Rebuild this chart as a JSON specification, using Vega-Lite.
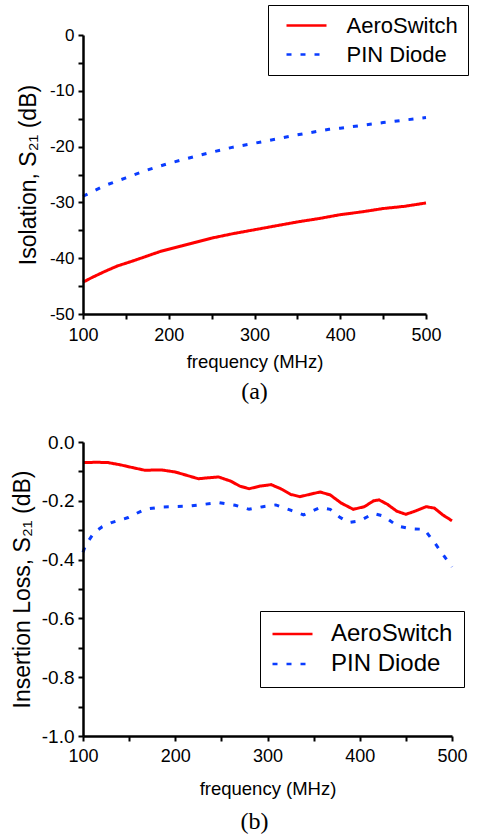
{
  "$schema": "https://vega.github.io/schema/vega-lite/v6.json",
  "padding": {"left": 11, "top": 4, "right": 4, "bottom": 0},
  "background": "white",
  "config": {
    "view": {"stroke": null},
    "font": "Liberation Sans",
    "locale": {"number": {"decimal": ".", "thousands": ",", "grouping": [3], "currency": ["$", ""], "minus": "-"}},
    "axis": {
      "grid": false,
      "zindex": 1,
      "domainColor": "black",
      "domainWidth": 2.5,
      "tickColor": "black",
      "tickWidth": 2,
      "tickSize": 5,
      "labelColor": "black",
      "titleColor": "black",
      "titleFontWeight": "normal",
      "labelFont": "Liberation Sans",
      "titleFont": "Liberation Sans",
      "labelFlush": false
    },
    "legend": {
      "orient": "none",
      "title": null,
      "strokeColor": "black",
      "fillColor": "white",
      "labelFont": "Liberation Sans",
      "labelColor": "black",
      "symbolType": "stroke",
      "symbolSize": 1600,
      "symbolStrokeWidth": 2.5
    }
  },
  "datasets": {
    "iso": [
      {"freq": 100, "S21": -44.3, "device": "AeroSwitch"},
      {"freq": 110, "S21": -43.5, "device": "AeroSwitch"},
      {"freq": 125, "S21": -42.4, "device": "AeroSwitch"},
      {"freq": 140, "S21": -41.4, "device": "AeroSwitch"},
      {"freq": 150, "S21": -40.9, "device": "AeroSwitch"},
      {"freq": 160, "S21": -40.4, "device": "AeroSwitch"},
      {"freq": 175, "S21": -39.6, "device": "AeroSwitch"},
      {"freq": 190, "S21": -38.8, "device": "AeroSwitch"},
      {"freq": 200, "S21": -38.4, "device": "AeroSwitch"},
      {"freq": 215, "S21": -37.8, "device": "AeroSwitch"},
      {"freq": 230, "S21": -37.2, "device": "AeroSwitch"},
      {"freq": 250, "S21": -36.4, "device": "AeroSwitch"},
      {"freq": 275, "S21": -35.6, "device": "AeroSwitch"},
      {"freq": 300, "S21": -34.9, "device": "AeroSwitch"},
      {"freq": 325, "S21": -34.2, "device": "AeroSwitch"},
      {"freq": 350, "S21": -33.5, "device": "AeroSwitch"},
      {"freq": 375, "S21": -32.9, "device": "AeroSwitch"},
      {"freq": 400, "S21": -32.2, "device": "AeroSwitch"},
      {"freq": 425, "S21": -31.7, "device": "AeroSwitch"},
      {"freq": 450, "S21": -31.1, "device": "AeroSwitch"},
      {"freq": 475, "S21": -30.7, "device": "AeroSwitch"},
      {"freq": 500, "S21": -30.1, "device": "AeroSwitch"},
      {"freq": 100, "S21": -28.9, "device": "PIN Diode"},
      {"freq": 125, "S21": -27.0, "device": "PIN Diode"},
      {"freq": 150, "S21": -25.6, "device": "PIN Diode"},
      {"freq": 175, "S21": -24.2, "device": "PIN Diode"},
      {"freq": 200, "S21": -23.0, "device": "PIN Diode"},
      {"freq": 250, "S21": -21.0, "device": "PIN Diode"},
      {"freq": 275, "S21": -20.1, "device": "PIN Diode"},
      {"freq": 300, "S21": -19.4, "device": "PIN Diode"},
      {"freq": 350, "S21": -17.9, "device": "PIN Diode"},
      {"freq": 387, "S21": -16.9, "device": "PIN Diode"},
      {"freq": 400, "S21": -16.7, "device": "PIN Diode"},
      {"freq": 450, "S21": -15.7, "device": "PIN Diode"},
      {"freq": 500, "S21": -14.8, "device": "PIN Diode"}
    ],
    "loss": [
      {"freq": 100, "S21": -0.070, "device": "AeroSwitch"},
      {"freq": 115, "S21": -0.069, "device": "AeroSwitch"},
      {"freq": 127, "S21": -0.070, "device": "AeroSwitch"},
      {"freq": 141, "S21": -0.078, "device": "AeroSwitch"},
      {"freq": 155, "S21": -0.088, "device": "AeroSwitch"},
      {"freq": 167, "S21": -0.096, "device": "AeroSwitch"},
      {"freq": 185, "S21": -0.095, "device": "AeroSwitch"},
      {"freq": 200, "S21": -0.102, "device": "AeroSwitch"},
      {"freq": 212, "S21": -0.113, "device": "AeroSwitch"},
      {"freq": 225, "S21": -0.125, "device": "AeroSwitch"},
      {"freq": 235, "S21": -0.122, "device": "AeroSwitch"},
      {"freq": 247, "S21": -0.119, "device": "AeroSwitch"},
      {"freq": 260, "S21": -0.133, "device": "AeroSwitch"},
      {"freq": 270, "S21": -0.150, "device": "AeroSwitch"},
      {"freq": 280, "S21": -0.159, "device": "AeroSwitch"},
      {"freq": 292, "S21": -0.150, "device": "AeroSwitch"},
      {"freq": 304, "S21": -0.145, "device": "AeroSwitch"},
      {"freq": 315, "S21": -0.160, "device": "AeroSwitch"},
      {"freq": 325, "S21": -0.178, "device": "AeroSwitch"},
      {"freq": 335, "S21": -0.186, "device": "AeroSwitch"},
      {"freq": 346, "S21": -0.178, "device": "AeroSwitch"},
      {"freq": 357, "S21": -0.170, "device": "AeroSwitch"},
      {"freq": 368, "S21": -0.180, "device": "AeroSwitch"},
      {"freq": 380, "S21": -0.208, "device": "AeroSwitch"},
      {"freq": 393, "S21": -0.229, "device": "AeroSwitch"},
      {"freq": 405, "S21": -0.220, "device": "AeroSwitch"},
      {"freq": 415, "S21": -0.200, "device": "AeroSwitch"},
      {"freq": 421, "S21": -0.197, "device": "AeroSwitch"},
      {"freq": 430, "S21": -0.212, "device": "AeroSwitch"},
      {"freq": 440, "S21": -0.235, "device": "AeroSwitch"},
      {"freq": 450, "S21": -0.246, "device": "AeroSwitch"},
      {"freq": 460, "S21": -0.235, "device": "AeroSwitch"},
      {"freq": 472, "S21": -0.220, "device": "AeroSwitch"},
      {"freq": 481, "S21": -0.225, "device": "AeroSwitch"},
      {"freq": 490, "S21": -0.248, "device": "AeroSwitch"},
      {"freq": 500, "S21": -0.268, "device": "AeroSwitch"},
      {"freq": 100, "S21": -0.375, "device": "PIN Diode"},
      {"freq": 103, "S21": -0.350, "device": "PIN Diode"},
      {"freq": 112, "S21": -0.308, "device": "PIN Diode"},
      {"freq": 121, "S21": -0.288, "device": "PIN Diode"},
      {"freq": 131, "S21": -0.274, "device": "PIN Diode"},
      {"freq": 149, "S21": -0.257, "device": "PIN Diode"},
      {"freq": 167, "S21": -0.229, "device": "PIN Diode"},
      {"freq": 185, "S21": -0.221, "device": "PIN Diode"},
      {"freq": 215, "S21": -0.218, "device": "PIN Diode"},
      {"freq": 247, "S21": -0.206, "device": "PIN Diode"},
      {"freq": 265, "S21": -0.215, "device": "PIN Diode"},
      {"freq": 280, "S21": -0.229, "device": "PIN Diode"},
      {"freq": 295, "S21": -0.220, "device": "PIN Diode"},
      {"freq": 309, "S21": -0.214, "device": "PIN Diode"},
      {"freq": 325, "S21": -0.232, "device": "PIN Diode"},
      {"freq": 339, "S21": -0.248, "device": "PIN Diode"},
      {"freq": 357, "S21": -0.223, "device": "PIN Diode"},
      {"freq": 368, "S21": -0.229, "device": "PIN Diode"},
      {"freq": 378, "S21": -0.255, "device": "PIN Diode"},
      {"freq": 388, "S21": -0.274, "device": "PIN Diode"},
      {"freq": 400, "S21": -0.268, "device": "PIN Diode"},
      {"freq": 415, "S21": -0.243, "device": "PIN Diode"},
      {"freq": 426, "S21": -0.252, "device": "PIN Diode"},
      {"freq": 441, "S21": -0.286, "device": "PIN Diode"},
      {"freq": 455, "S21": -0.295, "device": "PIN Diode"},
      {"freq": 470, "S21": -0.297, "device": "PIN Diode"},
      {"freq": 481, "S21": -0.342, "device": "PIN Diode"},
      {"freq": 490, "S21": -0.382, "device": "PIN Diode"},
      {"freq": 500, "S21": -0.425, "device": "PIN Diode"}
    ]
  },
  "columns": 1,
  "align": "none",
  "spacing": 29,
  "concat": [
    {
      "width": 343,
      "height": 279,
      "data": {"name": "iso"},
      "title": {"text": "(a)", "orient": "bottom", "font": "Liberation Serif", "fontSize": 24, "fontWeight": "normal", "color": "black", "offset": 9, "anchor": "middle", "frame": "group"},
      "mark": {"type": "line", "strokeWidth": 3, "strokeCap": "butt"},
      "encoding": {
        "x": {
          "field": "freq", "type": "quantitative",
          "scale": {"domain": [100, 500], "nice": false, "zero": false},
          "axis": {
            "title": "frequency (MHz)",
            "values": [100, 150, 200, 250, 300, 350, 400, 450, 500],
            "labelExpr": "datum.value % 100 === 0 ? datum.label : ''",
            "zindex": 1,
            "domainColor": "black", "domainWidth": 2.5,
            "tickColor": "black", "tickWidth": 2, "tickSize": 5,
            "labelFlush": false,
            "labelFontSize": 18,
            "labelPadding": 7,
            "titleFontSize": 18.5,
            "titlePadding": 8
          }
        },
        "y": {
          "field": "S21", "type": "quantitative",
          "scale": {"domain": [-50, 0], "nice": false, "zero": false},
          "axis": {
            "title": "Isolation, S₂₁ (dB)",
            "values": [-50, -45, -40, -35, -30, -25, -20, -15, -10, -5, 0],
            "labelExpr": "datum.value % 10 === 0 ? datum.label : ''",
            "zindex": 1,
            "domainColor": "black", "domainWidth": 2.5,
            "tickColor": "black", "tickWidth": 2, "tickSize": 5,
            "labelFontSize": 17,
            "labelPadding": 4,
            "titleFontSize": 23,
            "titlePadding": 9
          }
        },
        "color": {
          "field": "device", "type": "nominal",
          "scale": {"domain": ["AeroSwitch", "PIN Diode"], "range": ["#ff0000", "#0a3cff"]},
          "legend": {"orient": "none", "legendX": 185, "legendY": -30, "labelFontSize": 22, "clipHeight": 22, "rowPadding": 7, "padding": 9.5, "symbolOffset": 7.5, "labelOffset": 18.5}
        },
        "strokeDash": {
          "field": "device", "type": "nominal",
          "scale": {"domain": ["AeroSwitch", "PIN Diode"], "range": [[1, 0], [5, 9]]},
          "legend": {"orient": "none", "legendX": 185, "legendY": -30, "labelFontSize": 22, "clipHeight": 22, "rowPadding": 7, "padding": 9.5, "symbolOffset": 7.5, "labelOffset": 18.5}
        }
      }
    },
    {
      "width": 369,
      "height": 294,
      "data": {"name": "loss"},
      "title": {"text": "(b)", "orient": "bottom", "font": "Liberation Serif", "fontSize": 24, "fontWeight": "normal", "color": "black", "offset": 12, "anchor": "middle", "frame": "group", "dx": -13},
      "mark": {"type": "line", "strokeWidth": 3, "strokeCap": "butt"},
      "encoding": {
        "x": {
          "field": "freq", "type": "quantitative",
          "scale": {"domain": [100, 500], "nice": false, "zero": false},
          "axis": {
            "title": "frequency (MHz)",
            "values": [100, 150, 200, 250, 300, 350, 400, 450, 500],
            "labelExpr": "datum.value % 100 === 0 ? datum.label : ''",
            "zindex": 1,
            "domainColor": "black", "domainWidth": 2.5,
            "tickColor": "black", "tickWidth": 2, "tickSize": 5,
            "labelFlush": false,
            "labelFontSize": 18,
            "labelPadding": 6,
            "titleFontSize": 18.5,
            "titlePadding": 14
          }
        },
        "y": {
          "field": "S21", "type": "quantitative",
          "scale": {"domain": [-1, 0], "nice": false, "zero": false},
          "axis": {
            "title": "Insertion Loss, S₂₁ (dB)",
            "values": [-1, -0.9, -0.8, -0.7, -0.6, -0.5, -0.4, -0.3, -0.2, -0.1, 0],
            "format": ".1f",
            "labelExpr": "abs(round(datum.value * 10)) % 2 === 0 ? datum.label : ''",
            "zindex": 1,
            "domainColor": "black", "domainWidth": 2.5,
            "tickColor": "black", "tickWidth": 2, "tickSize": 5,
            "labelFontSize": 19,
            "labelPadding": 4,
            "titleFontSize": 23,
            "titlePadding": 7
          }
        },
        "color": {
          "field": "device", "type": "nominal",
          "scale": {"domain": ["AeroSwitch", "PIN Diode"], "range": ["#ff0000", "#0a3cff"]},
          "legend": {"orient": "none", "legendX": 177, "legendY": 169, "labelFontSize": 24, "clipHeight": 24, "rowPadding": 6, "padding": 11, "symbolOffset": 0, "labelOffset": 17}
        },
        "strokeDash": {
          "field": "device", "type": "nominal",
          "scale": {"domain": ["AeroSwitch", "PIN Diode"], "range": [[1, 0], [5, 9]]},
          "legend": {"orient": "none", "legendX": 177, "legendY": 169, "labelFontSize": 24, "clipHeight": 24, "rowPadding": 6, "padding": 11, "symbolOffset": 0, "labelOffset": 17}
        }
      }
    }
  ],
  "resolve": {"legend": {"color": "independent", "strokeDash": "independent"}}
}
